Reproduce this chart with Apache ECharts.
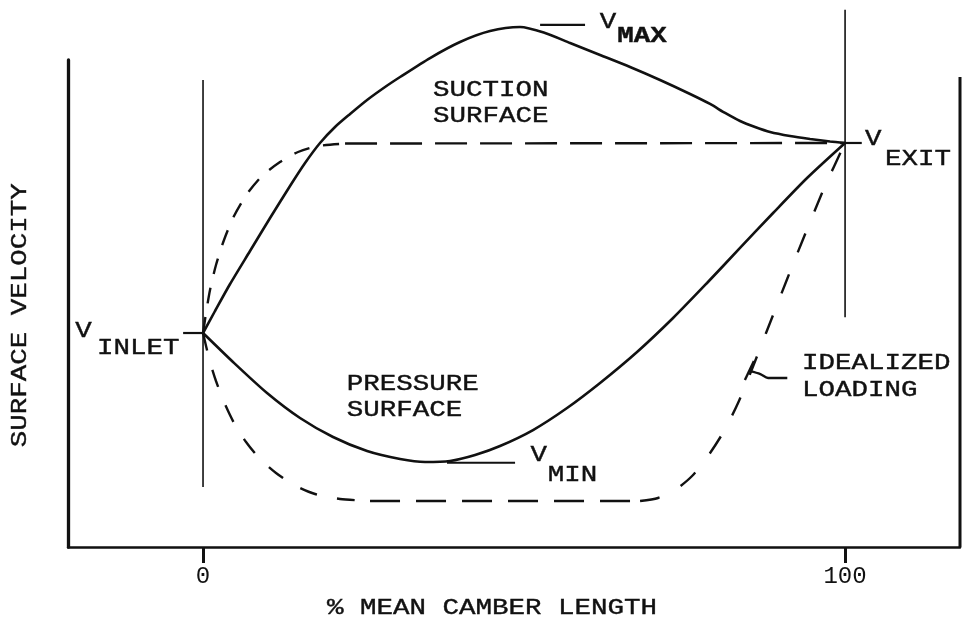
<!DOCTYPE html>
<html>
<head>
<meta charset="utf-8">
<title>Surface velocity distribution</title>
<script src="https://cdn.jsdelivr.net/npm/echarts@6/dist/echarts.min.js"></script>
<style>
  html, body { margin: 0; padding: 0; background: #fff; }
  #chart { width: 966px; height: 625px; }
</style>
</head>
<body>
<div id="chart"></div>
<script>
// Blade surface velocity versus % mean camber length (relative units on the y axis)
const xTickValues = [0, 100];

// Suction (upper) surface velocity
const suctionSurface = [
  [0, 43.94], [1.87, 48.46], [4.21, 54.00], [7.32, 60.78], [10.44, 67.56], [13.55, 74.13],
  [15.89, 78.85], [18.22, 82.96], [20.56, 86.24], [22.90, 88.91], [25.55, 91.79],
  [28.35, 94.46], [30.69, 96.51], [35.36, 100.41], [40.03, 103.70], [44.70, 105.95],
  [49.38, 106.78], [53.27, 105.54], [57.17, 103.49], [61.84, 101.03], [66.51, 98.56],
  [71.18, 95.89], [75.86, 93.02], [78.97, 90.97], [81.31, 89.12], [83.64, 87.47],
  [85.98, 86.24], [88.32, 85.22], [91.43, 84.39], [94.55, 83.78], [97.66, 83.26], [100, 82.96]
];

// Pressure (lower) surface velocity
const pressureSurface = [
  [0, 43.94], [4.67, 37.99], [9.97, 31.62], [15.11, 26.49], [20.25, 22.59], [25.55, 19.71],
  [30.69, 18.07], [34.58, 17.45], [38.47, 17.66], [42.37, 18.89], [46.26, 20.74],
  [51.40, 24.02], [56.70, 28.54], [61.84, 33.68], [67.60, 40.04], [73.21, 47.02],
  [78.50, 54.21], [83.64, 61.40], [88.79, 68.58], [94.08, 75.77], [100, 82.96]
];

// Idealized loading, upper branch: rapid acceleration then constant velocity
const idealUpperRise = [
  [0, 43.94], [0.47, 48.05], [1.09, 52.77], [2.02, 57.91], [3.27, 63.04], [4.83, 67.97],
  [6.85, 72.48], [9.19, 76.18], [11.99, 79.06], [14.80, 81.11], [17.91, 82.34], [22.12, 82.85]
];
const idealUpperPlateau = [[22.12, 82.85], [100, 82.96]];

// Idealized loading, lower branch: rapid deceleration, constant, then recovery to exit
const idealLowerDrop = [
  [0, 43.94], [0.47, 41.27], [1.09, 37.99], [2.02, 34.09], [3.27, 29.77], [4.83, 25.46],
  [6.70, 21.56], [8.88, 18.07], [11.37, 15.20], [14.17, 12.73], [17.45, 10.88],
  [21.34, 9.86], [26.01, 9.45]
];
const idealLowerFloor = [[26.01, 9.45], [68.07, 9.45]];
const idealLowerRise = [
  [68.07, 9.45], [70.87, 10.06], [73.52, 11.70], [76.17, 14.58], [78.66, 18.69],
  [81.15, 23.82], [83.33, 29.57], [85.51, 36.55], [87.69, 43.94], [89.88, 51.33],
  [92.21, 59.14], [94.55, 66.74], [96.88, 74.13], [100, 82.96]
];

// Leading / trailing edge reference lines and the right-hand frame
const inletGuide = [[0, 12.3], [0, 95.9]];
const exitGuide = [[100, 47.2], [100, 110.3]];
const rightFrame = [[117.9, 0], [117.9, 96.5]];

// Short leader lines pointing at the annotated velocities
const inletLeader = [[-3.1, 43.94], [0, 43.94]];
const exitLeader = [[100, 82.96], [102.6, 82.96]];
const maxLeader = [[52.5, 107.2], [59.5, 107.2]];
const minLeader = [[38.0, 17.3], [48.6, 17.3]];
const loadingLeaderStem = [[84.4, 34.3], [85.8, 38.2]];
const loadingLeaderTail = [[85.2, 36.1], [86.8, 35.5], [88.0, 34.7], [91.0, 34.7]];

// Text annotations, anchored in data coordinates (left edge, vertical middle)
const textLabels = [
  { text: 'SUCTION', at: [35.8, 93.9] },
  { text: 'SURFACE', at: [35.8, 88.4] },
  { text: 'PRESSURE', at: [22.4, 33.4] },
  { text: 'SURFACE', at: [22.4, 28.1] },
  { text: 'IDEALIZED', at: [93.3, 37.7] },
  { text: 'LOADING', at: [93.3, 32.3] },
  { text: 'V', at: [61.8, 107.7] },
  { text: 'MAX', at: [64.5, 104.8], bold: true },
  { text: 'V', at: [51.0, 18.8] },
  { text: 'MIN', at: [53.7, 14.8] },
  { text: 'V', at: [103.1, 83.7] },
  { text: 'EXIT', at: [106.2, 79.6] },
  { text: 'V', at: [-19.9, 44.4] },
  { text: 'INLET', at: [-16.5, 40.8] },
  { text: '% MEAN CAMBER LENGTH', at: [19.3, -12.6] },
  { text: 'SURFACE VELOCITY', at: [-28.5, 47.6], vertical: true }
];

const INK = '#111';
const FONT = '"Liberation Mono", "Courier New", monospace';

function curve(data, width, dash, smooth) {
  return {
    type: 'line',
    data: data,
    smooth: smooth || false,
    symbol: 'none',
    clip: false,
    silent: true,
    lineStyle: { color: INK, width: width, type: dash || 'solid', cap: 'butt' }
  };
}

const chart = echarts.init(document.getElementById('chart'), null, { renderer: 'canvas' });

const option = {
  animation: false,
  backgroundColor: '#fff',
  grid: { left: 68, right: 6, top: 60, bottom: 78, containLabel: false },
  xAxis: {
    type: 'value',
    min: -21.03,
    max: 117.9,
    axisLine: { show: true, onZero: false, lineStyle: { color: INK, width: 2.5 } },
    axisTick: { show: true, customValues: xTickValues, length: 16, lineStyle: { color: INK, width: 3 } },
    axisLabel: {
      show: true, customValues: xTickValues, margin: 18,
      fontFamily: FONT, fontSize: 24, color: INK
    },
    splitLine: { show: false }
  },
  yAxis: {
    type: 'value',
    min: 0,
    max: 100,
    axisLine: { show: true, onZero: false, lineStyle: { color: INK, width: 3.3 } },
    axisTick: { show: false },
    axisLabel: { show: false },
    splitLine: { show: false }
  },
  series: [
    curve(inletGuide, 1.6),
    curve(exitGuide, 1.6),
    curve(rightFrame, 3),
    curve(suctionSurface, 2.6, 'solid', 0.25),
    curve(pressureSurface, 2.6, 'solid', 0.25),
    curve(idealUpperRise, 2.4, [16, 14], 0.25),
    curve(idealUpperPlateau, 2.4, [32, 13]),
    curve(idealLowerDrop, 2.4, [18, 20], 0.25),
    curve(idealLowerFloor, 2.4, [30, 16]),
    curve(idealLowerRise, 2.4, [20, 24], 0.25),
    curve(inletLeader, 2.2),
    curve(exitLeader, 2.2),
    curve(maxLeader, 2.2),
    curve(minLeader, 2.2),
    curve(loadingLeaderStem, 2.4),
    curve(loadingLeaderTail, 2.4, 'solid', 0.3)
  ]
};

chart.setOption(option);

// Typewriter-style lettering: a monospace face stretched horizontally
const graphics = textLabels.map(function (l) {
  const p = chart.convertToPixel({ gridIndex: 0 }, l.at);
  return {
    type: 'text',
    x: p[0],
    y: p[1],
    rotation: l.vertical ? Math.PI / 2 : 0,
    scaleX: 1.25,
    silent: true,
    style: {
      text: l.text,
      fontFamily: FONT,
      fontSize: 22,
      fontWeight: l.bold ? 'bold' : 'normal',
      fill: INK,
      stroke: INK,
      lineWidth: 0.4,
      align: l.vertical ? 'center' : 'left',
      verticalAlign: 'middle'
    }
  };
});
chart.setOption({ graphic: graphics });
</script>
</body>
</html>
